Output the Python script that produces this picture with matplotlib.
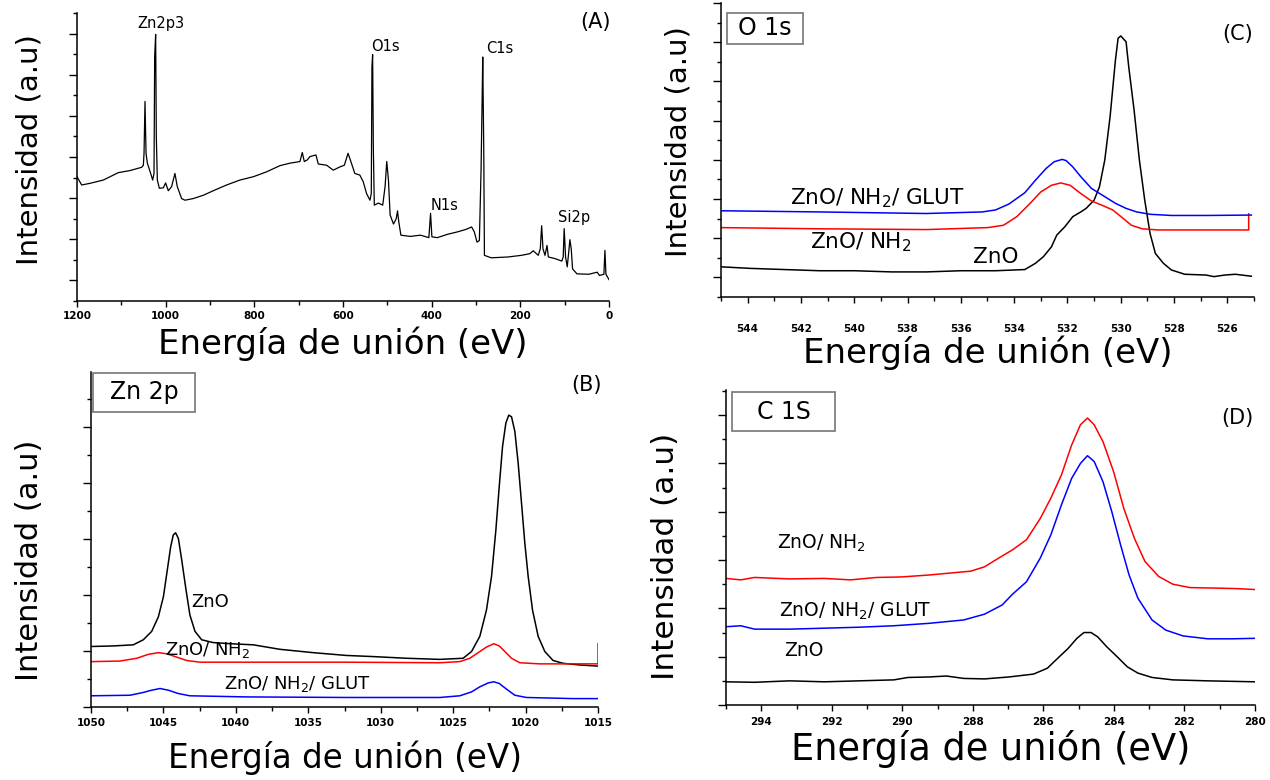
import matplotlib
matplotlib.use("Agg")
import matplotlib.pyplot as plt
from matplotlib.patches import Rectangle
from matplotlib.ticker import MultipleLocator

plt.rcParams['font.family'] = ['DejaVu Sans']
plt.rcParams['mathtext.default'] = 'regular'

# ---- (A) survey spectrum ----
survey_ev = [1200, 1189.5, 1170.7, 1140.6, 1106.8, 1080.5, 1054.1, 1050.3, 1048.8, 1046.6,
             1044.3, 1041.3, 1033.8, 1029.3, 1026.3, 1024.8, 1022.6, 1021.1, 1018.8, 1014.3,
             1005.3, 1000.1, 994.1, 986.6, 979.1, 973.8, 964.0, 956.5, 937.7, 915.1,
             892.6, 862.5, 832.4, 802.4, 772.3, 742.2, 719.6, 697.1, 691.8, 687.3,
             680.5, 674.5, 661.0, 655.8, 637.0, 621.9, 606.9, 597.0, 588.6, 581.0,
             573.4, 562.0, 554.4, 546.8, 539.2, 536.2, 534.7, 533.2, 531.6, 529.4,
             520.2, 510.4, 505.1, 501.3, 497.5, 493.7, 486.1, 480.0, 477.0, 474.0,
             469.4, 448.1, 425.3, 406.3, 402.5, 399.5, 387.3, 364.6, 341.8, 322.8,
             309.9, 303.8, 297.7, 292.4, 288.6, 286.3, 284.8, 282.5, 281.0, 265.8,
             227.8, 197.5, 178.5, 170.9, 159.5, 155.0, 151.9, 148.9, 144.4, 139.8,
             136.8, 121.6, 106.4, 103.3, 101.1, 98.0, 94.2, 91.2, 88.2, 85.2,
             82.2, 72.3, 45.7, 26.7, 21.4, 11.5, 9.2, 6.9, 0]
survey_int = [2.52, 2.32, 2.36, 2.44, 2.62, 2.67, 2.75, 2.80, 3.09, 4.35,
              3.09, 2.85, 2.60, 2.44, 2.60, 5.45, 5.98, 3.50, 2.44, 2.24,
              2.25, 2.37, 2.18, 2.28, 2.60, 2.28, 1.99, 1.95, 1.99, 2.07,
              2.18, 2.32, 2.44, 2.52, 2.64, 2.79, 2.85, 2.89, 3.11, 2.89,
              2.93, 3.01, 3.05, 2.83, 2.80, 2.68, 2.76, 2.80, 3.09, 2.85,
              2.60, 2.56, 2.40, 2.11, 1.95, 2.11, 5.20, 5.49, 3.25, 1.83,
              1.88, 1.83, 2.28, 2.89, 2.44, 1.59, 1.37, 1.50, 1.69, 1.41,
              1.10, 1.07, 1.10, 1.04, 1.63, 1.06, 1.04, 1.12, 1.18, 1.24,
              1.30, 1.18, 0.93, 0.97, 2.68, 4.31, 5.43, 3.17, 0.61, 0.55,
              0.57, 0.61, 0.65, 0.72, 0.61, 0.77, 1.33, 0.77, 0.61, 0.85,
              0.57, 0.53, 0.47, 0.57, 1.26, 0.57, 0.33, 0.65, 0.99, 0.77,
              0.28, 0.16, 0.15, 0.20, 0.12, 0.15, 0.73, 0.15, 0.02]
survey_ticks = [1200, 1000, 800, 600, 400, 200, 0]
survey_peaks = ['Zn2p3', 'O1s', 'C1s', 'N1s', 'Si2p']
survey_peak_ev = [1011, 505, 247, 372, 78]
survey_peak_int = [6.24, 5.69, 5.63, 1.83, 1.54]

# ---- (B) Zn 2p ----
zn_ev_zno = [1050, 1048.46, 1047.08, 1046.39, 1045.81, 1045.35, 1045.0, 1044.73, 1044.5, 1044.32,
             1044.16, 1043.97, 1043.74, 1043.44, 1043.17, 1042.82, 1042.36, 1041.56, 1040.41, 1038.80,
             1036.96, 1034.66, 1032.36, 1030.52, 1028.22, 1025.92, 1024.31, 1023.73, 1023.16, 1022.70,
             1022.35, 1022.05, 1021.82, 1021.59, 1021.36, 1021.16, 1020.97, 1020.74, 1020.51, 1020.28,
             1020.05, 1019.82, 1019.52, 1019.13, 1018.67, 1018.10, 1017.41, 1016.26, 1015.0]
zn_zno = [1.08, 1.09, 1.11, 1.20, 1.35, 1.61, 1.97, 2.45, 2.86, 3.07,
          3.11, 3.01, 2.63, 2.09, 1.64, 1.35, 1.20, 1.15, 1.13, 1.11,
          1.03, 0.97, 0.92, 0.90, 0.87, 0.85, 0.87, 0.99, 1.26, 1.73,
          2.33, 3.16, 3.93, 4.65, 5.07, 5.21, 5.18, 4.92, 4.35, 3.64,
          2.92, 2.33, 1.73, 1.26, 0.99, 0.83, 0.78, 0.75, 0.73]
zn_ev_nh2 = [1050, 1048.0, 1046.84, 1046.04, 1045.35, 1044.77, 1044.08, 1043.39, 1042.47, 1039.25,
             1032.36, 1025.92, 1024.54, 1023.85, 1023.27, 1022.70, 1022.19, 1021.82, 1021.43, 1020.97,
             1020.40, 1019.02, 1016.72, 1015.0, 1015.0]
zn_nh2 = [0.81, 0.82, 0.87, 0.94, 0.97, 0.95, 0.89, 0.83, 0.80, 0.80,
          0.80, 0.79, 0.81, 0.87, 0.97, 1.07, 1.13, 1.09, 0.99, 0.87,
          0.79, 0.77, 0.77, 0.77, 1.13]
zn_ev_glut = [1050, 1047.3, 1046.39, 1045.81, 1045.23, 1044.66, 1043.97, 1043.17, 1039.25, 1032.36,
              1025.92, 1024.54, 1023.73, 1023.16, 1022.58, 1022.19, 1021.82, 1021.32, 1020.74, 1019.94,
              1016.72, 1015.0]
zn_glut = [0.20, 0.21, 0.26, 0.30, 0.33, 0.30, 0.24, 0.20, 0.18, 0.17,
           0.17, 0.20, 0.27, 0.36, 0.43, 0.45, 0.42, 0.32, 0.21, 0.17,
           0.15, 0.15]
zn_ticks = [1050, 1045, 1040, 1035, 1030, 1025, 1020, 1015]

# ---- (C) O 1s ----
o_ev_zno = [545.0, 543.9, 542.6, 541.3, 540.0, 538.6, 537.3, 536.0, 534.7, 533.6,
            533.2, 532.9, 532.6, 532.4, 532.1, 531.8, 531.5, 531.3, 531.0, 530.8,
            530.6, 530.4, 530.2, 530.1, 530.0, 529.8, 529.7, 529.5, 529.3, 529.1,
            528.9, 528.7, 528.4, 528.1, 527.6, 526.8, 526.5, 526.1, 525.7, 525.1]
o_zno = [0.27, 0.23, 0.20, 0.17, 0.17, 0.14, 0.14, 0.17, 0.17, 0.20,
         0.36, 0.53, 0.78, 1.08, 1.29, 1.55, 1.67, 1.76, 1.97, 2.31,
         2.99, 4.10, 5.54, 6.10, 6.16, 6.01, 5.37, 4.27, 2.99, 1.97,
         1.12, 0.61, 0.36, 0.19, 0.08, 0.06, 0.02, 0.06, 0.08, 0.03]
o_ev_glut = [545.0, 541.3, 537.3, 535.2, 534.7, 534.2, 533.6, 533.2, 532.8, 532.5,
             532.2, 532.05, 531.8, 531.5, 531.1, 530.6, 530.2, 529.8, 529.4, 528.9,
             528.1, 526.8, 525.1]
o_glut = [1.70, 1.67, 1.63, 1.67, 1.72, 1.87, 2.16, 2.48, 2.78, 2.95,
          3.01, 2.98, 2.82, 2.57, 2.27, 2.06, 1.89, 1.76, 1.67, 1.61,
          1.58, 1.58, 1.59]
o_ev_nh2 = [545.0, 541.3, 537.3, 535.0, 534.4, 533.9, 533.4, 533.0, 532.6, 532.25,
            531.9, 531.5, 531.1, 530.7, 530.3, 529.9, 529.6, 529.2, 528.6, 527.4,
            526.1, 525.2, 525.2]
o_nh2 = [1.27, 1.24, 1.22, 1.27, 1.33, 1.55, 1.89, 2.18, 2.35, 2.41,
         2.35, 2.14, 1.95, 1.84, 1.72, 1.50, 1.33, 1.24, 1.21, 1.21,
         1.21, 1.21, 1.62]
o_ticks = [544, 542, 540, 538, 536, 534, 532, 530, 528, 526]

# ---- (D) C 1s ----
c_ev_nh2 = [295.0, 294.58, 294.19, 293.20, 292.21, 291.47, 290.73, 290.04, 289.25, 288.66,
            288.06, 287.67, 287.27, 286.88, 286.48, 286.09, 285.79, 285.49, 285.20, 284.95,
            284.75, 284.56, 284.31, 284.01, 283.72, 283.42, 283.12, 282.73, 282.33, 281.84,
            281.15, 280.55, 280.0]
c_nh2 = [2.62, 2.59, 2.64, 2.61, 2.62, 2.59, 2.64, 2.65, 2.69, 2.73,
         2.77, 2.86, 3.04, 3.21, 3.42, 3.86, 4.28, 4.76, 5.38, 5.80,
         5.94, 5.80, 5.45, 4.83, 4.07, 3.45, 2.97, 2.66, 2.50, 2.43,
         2.42, 2.41, 2.39]
c_ev_glut = [295.0, 294.58, 294.19, 293.20, 292.21, 291.23, 290.24, 289.25, 288.26, 287.67,
             287.17, 286.88, 286.48, 286.09, 285.79, 285.49, 285.20, 284.95, 284.75, 284.56,
             284.31, 284.06, 283.81, 283.57, 283.32, 282.92, 282.53, 282.04, 281.34, 280.65,
             280.0]
c_glut = [1.62, 1.64, 1.57, 1.57, 1.59, 1.61, 1.64, 1.69, 1.76, 1.88,
          2.07, 2.29, 2.55, 3.04, 3.52, 4.14, 4.69, 5.00, 5.16, 5.04,
          4.62, 4.00, 3.31, 2.69, 2.21, 1.76, 1.55, 1.43, 1.37, 1.37,
          1.38]
c_ev_zno = [295.0, 294.19, 293.20, 292.21, 291.23, 290.24, 289.84, 289.25, 288.75, 288.26,
            287.67, 286.98, 286.28, 285.89, 285.59, 285.30, 285.05, 284.85, 284.65, 284.46,
            284.21, 283.91, 283.62, 283.32, 282.92, 282.33, 281.34, 280.0]
c_zno = [0.48, 0.47, 0.50, 0.48, 0.50, 0.52, 0.57, 0.58, 0.60, 0.55,
         0.54, 0.58, 0.64, 0.76, 0.97, 1.17, 1.38, 1.50, 1.50, 1.41,
         1.21, 1.00, 0.79, 0.66, 0.57, 0.52, 0.50, 0.48]
c_ticks = [294, 292, 290, 288, 286, 284, 282, 280]

XLABEL = 'Energía de unión (eV)'
YLABEL = 'Intensidad (a.u)'
LBL_NH2 = 'ZnO/ NH$_2$'
LBL_GLUT = 'ZnO/ NH$_2$/ GLUT'

W, H = 1270, 780
fig = plt.figure(figsize=(W / 100, H / 100), dpi=100)


def panel(left, top, right, bottom):
    return fig.add_axes([left / W, 1 - bottom / H, (right - left) / W, (bottom - top) / H])


def style(ax, xlim, ylim, ticks, minor, pad):
    ax.set_xlim(*xlim)
    ax.set_ylim(*ylim)
    for side in ('top', 'right'):
        ax.spines[side].set_visible(False)
    for side in ('left', 'bottom'):
        ax.spines[side].set_linewidth(1.1)
    ax.set_xticks(ticks, [str(t) for t in ticks], fontweight='bold', fontsize=7.5)
    ax.xaxis.set_minor_locator(MultipleLocator(minor))
    ax.yaxis.set_major_locator(MultipleLocator(1))
    ax.yaxis.set_minor_locator(MultipleLocator(0.5))
    ax.tick_params(axis='x', which='major', direction='out', length=4.5, width=1, pad=pad)
    ax.tick_params(axis='x', which='minor', direction='out', length=3, width=1)
    ax.tick_params(axis='y', which='major', direction='out', length=6, width=1, labelleft=False)
    ax.tick_params(axis='y', which='minor', direction='out', length=3, width=1)


def tag_box(ax, x0, y0, x1, y1, text):
    ax.add_patch(Rectangle((x0, y0), x1 - x0, y1 - y0, transform=ax.transAxes,
                           facecolor='white', edgecolor='#808080', lw=1.3, clip_on=False, zorder=5))
    ax.text((x0 + x1) / 2, (y0 + y1) / 2, text, transform=ax.transAxes,
            ha='center', va='center', fontsize=17, zorder=6)


# (A) survey
axA = panel(77, 13, 609, 301)
axA.plot(survey_ev, survey_int, color='black', lw=0.9)
style(axA, (1200, 0), (-0.5, 6.5), survey_ticks, 100, 3)
for name, ev, y in zip(survey_peaks, survey_peak_ev, survey_peak_int):
    axA.text(ev, y, name, ha='center', va='center', fontsize=10.5)
axA.text(30.4, 6.28, '(A)', ha='center', va='center', fontsize=15)
axA.set_xlabel(XLABEL, fontsize=24.5, labelpad=4)

# (C) O 1s
axC = panel(721, 3, 1254, 297)
axC.plot(o_ev_zno, o_zno, color='black', lw=1.1)
axC.plot(o_ev_nh2, o_nh2, color='#ff0000', lw=1.1)
axC.plot(o_ev_glut, o_glut, color='#0000ff', lw=1.1)
style(axC, (545, 525), (-0.5, 7.0), o_ticks, 1, 15)
axC.text(542.4, 1.87, LBL_GLUT, fontsize=15.5, va='baseline')
axC.text(541.66, 0.74, LBL_NH2, fontsize=15.5, va='baseline')
axC.text(535.54, 0.37, 'ZnO', fontsize=15.5, va='baseline')
axC.text(525.6, 6.22, '(C)', ha='center', va='center', fontsize=15)
tag_box(axC, 0.012, 0.8605, 0.154, 0.967, 'O 1s')
axC.set_xlabel(XLABEL, fontsize=24.5, labelpad=1)

# (B) Zn 2p
axB = panel(91, 372, 598, 707)
axB.plot(zn_ev_zno, zn_zno, color='black', lw=1.1)
axB.plot(zn_ev_nh2, zn_nh2, color='#ff0000', lw=1.1)
axB.plot(zn_ev_glut, zn_glut, color='#0000ff', lw=1.1)
style(axB, (1050, 1015), (0, 5.98), zn_ticks, 2.5, 3.5)
axB.text(1043.05, 1.79, 'ZnO', fontsize=13, va='baseline')
axB.text(1044.9, 0.93, LBL_NH2, fontsize=13, va='baseline')
axB.text(1040.8, 0.32, LBL_GLUT, fontsize=13, va='baseline')
axB.text(1015.8, 5.75, '(B)', ha='center', va='center', fontsize=15)
tag_box(axB, 0.0045, 0.8815, 0.205, 0.998, 'Zn 2p')
axB.set_xlabel(XLABEL, fontsize=23.5, labelpad=9)

# (D) C 1s
axD = panel(726, 390, 1255, 705)
axD.plot(c_ev_zno, c_zno, color='black', lw=1.1)
axD.plot(c_ev_glut, c_glut, color='#0000ff', lw=1.1)
axD.plot(c_ev_nh2, c_nh2, color='#ff0000', lw=1.1)
style(axD, (295, 280), (0, 6.52), c_ticks, 1, 4)
axD.text(293.55, 3.24, LBL_NH2, fontsize=13.5, va='baseline')
axD.text(293.5, 1.83, LBL_GLUT, fontsize=13.5, va='baseline')
axD.text(293.35, 1.02, 'ZnO', fontsize=13.5, va='baseline')
axD.text(280.5, 5.94, '(D)', ha='center', va='center', fontsize=15)
tag_box(axD, 0.0113, 0.870, 0.206, 0.9927, 'C 1S')
axD.set_xlabel(XLABEL, fontsize=26.5, labelpad=2)

# rotated intensity labels
for x, y, size in [(30, 150, 21), (30, 560, 22), (678, 142, 21), (666, 556, 22.5)]:
    fig.text(x / W, 1 - y / H, YLABEL, rotation=90, ha='center', va='center', fontsize=size)

fig.savefig('out.png', dpi=100, facecolor='white')
